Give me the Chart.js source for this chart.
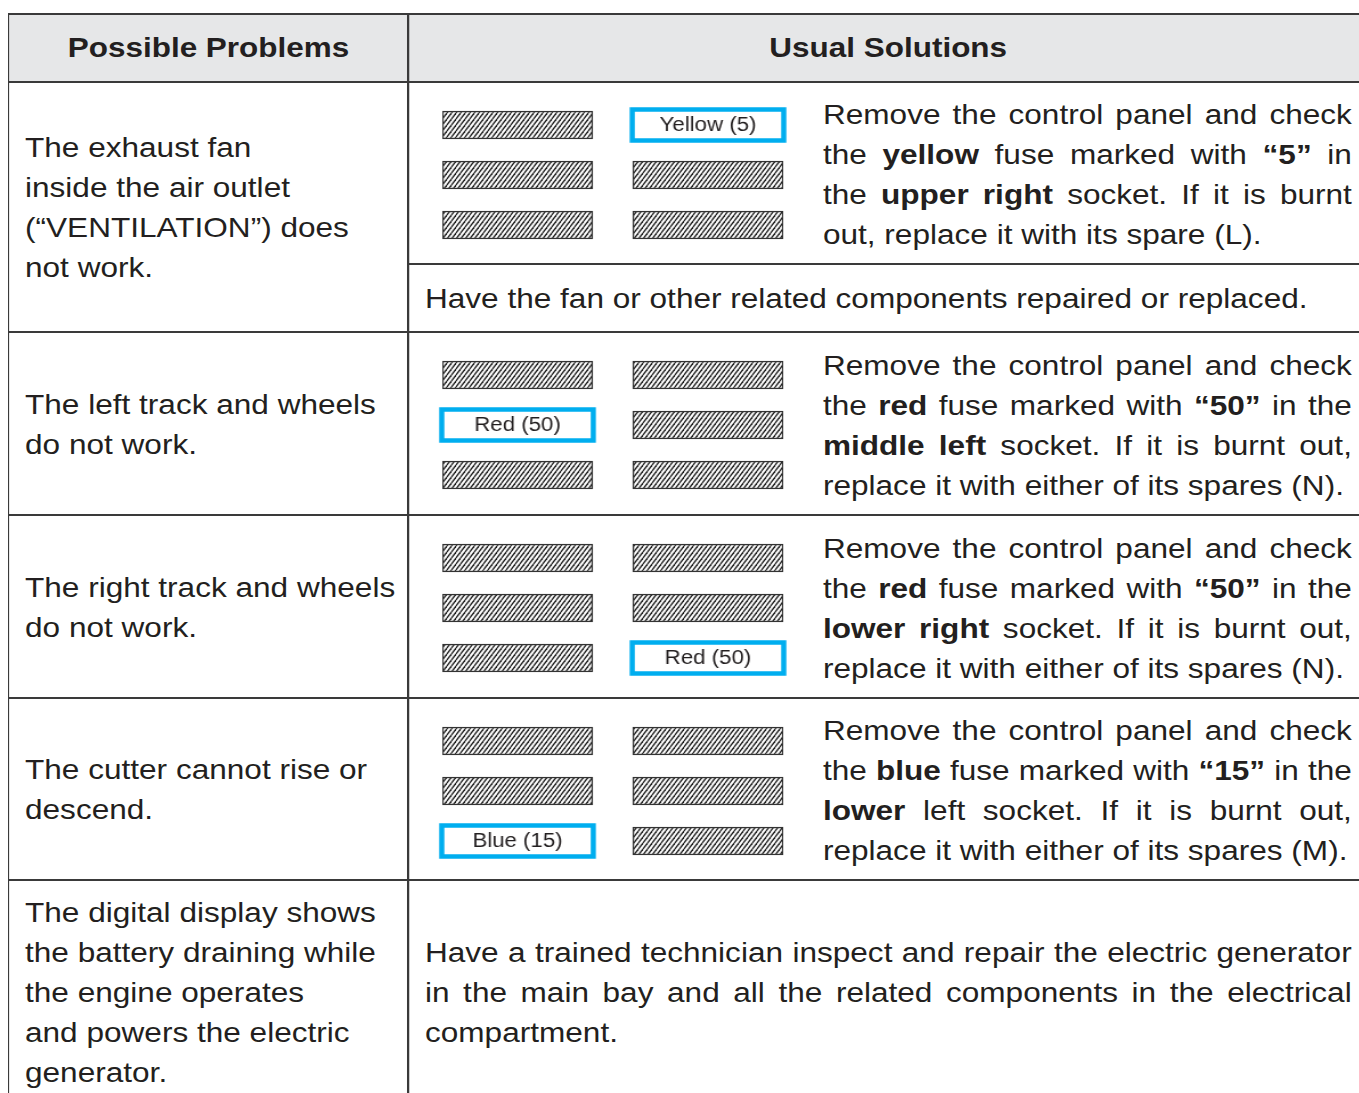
<!DOCTYPE html>
<html>
<head>
<meta charset="utf-8">
<script src="https://cdn.jsdelivr.net/npm/chart.js@4"></script>
<style>
  html, body { margin: 0; padding: 0; background: #fff; overflow: hidden; }
  body { width: 1359px; height: 1093px; position: relative; }
  .page { position: absolute; left: 0; top: 0; width: 1200px; transform: scaleX(1.14); transform-origin: 0 0;
    font-family: "Liberation Sans", Arial, Helvetica, sans-serif; color: #231f20; }
  .grid { position: absolute; left: 6.6px; top: 13px; display: grid;
    grid-template-columns: 349.1px 839.9px;
    grid-template-rows: 66px 180px 66px 181px 181px 180px 222px;
    column-gap: 1.75px; row-gap: 2px; padding: 2px 1.75px; background: #3a3a3a; }
  .cell { background: #fff; display: flex; align-items: center; font-size: 27.7px; line-height: 40px; }
  .head { background: #e6e7e8; justify-content: center; font-weight: bold; font-size: 27.6px; }
  .prob { padding-left: 13.6px; padding-top: 2px; }
  .sol { padding: 2px 13.4px 0 13.6px; }
  .span2 { grid-row: span 2; }
  .fuse { padding: 0; overflow: hidden; }
  .fuse canvas { margin-left: 20.5px; margin-top: 3px; flex: none; }
  .txt { margin-left: 27.2px; width: 464px; margin-top: 4px; }
  .txt.wide { margin-left: 0; width: 813px; margin-top: 0; }
  .j { text-align: justify; text-align-last: justify; white-space: nowrap; }
  .l { text-align: left; white-space: nowrap; }
  b { font-weight: bold; }
</style>
</head>
<body>
<div class="page">
  <div class="grid">
    <div class="cell head">Possible Problems</div>
    <div class="cell head">Usual Solutions</div>

    <div class="cell prob span2"><div>The exhaust fan<br>inside the air outlet<br>(“VENTILATION”) does<br>not work.</div></div>
    <div class="cell fuse"><canvas id="fuse0" width="315" height="160"></canvas>
      <div class="txt">
        <div class="j">Remove the control panel and check</div>
        <div class="j">the <b>yellow</b> fuse marked with <b>“5”</b> in</div>
        <div class="j">the <b>upper right</b> socket. If it is burnt</div>
        <div class="l">out, replace it with its spare (L).</div>
      </div></div>
    <div class="cell sol"><div>Have the fan or other related components repaired or replaced.</div></div>

    <div class="cell prob"><div>The left track and wheels<br>do not work.</div></div>
    <div class="cell fuse"><canvas id="fuse1" width="315" height="160"></canvas>
      <div class="txt">
        <div class="j">Remove the control panel and check</div>
        <div class="j">the <b>red</b> fuse marked with <b>“50”</b> in the</div>
        <div class="j"><b>middle left</b> socket. If it is burnt out,</div>
        <div class="l">replace it with either of its spares (N).</div>
      </div></div>

    <div class="cell prob"><div>The right track and wheels<br>do not work.</div></div>
    <div class="cell fuse"><canvas id="fuse2" width="315" height="160"></canvas>
      <div class="txt">
        <div class="j">Remove the control panel and check</div>
        <div class="j">the <b>red</b> fuse marked with <b>“50”</b> in the</div>
        <div class="j"><b>lower right</b> socket. If it is burnt out,</div>
        <div class="l">replace it with either of its spares (N).</div>
      </div></div>

    <div class="cell prob"><div>The cutter cannot rise or<br>descend.</div></div>
    <div class="cell fuse"><canvas id="fuse3" width="315" height="160"></canvas>
      <div class="txt">
        <div class="j">Remove the control panel and check</div>
        <div class="j">the <b>blue</b> fuse marked with <b>“15”</b> in the</div>
        <div class="j"><b>lower</b> left socket. If it is burnt out,</div>
        <div class="l">replace it with either of its spares (M).</div>
      </div></div>

    <div class="cell prob"><div>The digital display shows<br>the battery draining while<br>the engine operates<br>and powers the electric<br>generator.</div></div>
    <div class="cell sol"><div class="txt wide">
        <div class="j">Have a trained technician inspect and repair the electric generator</div>
        <div class="j">in the main bay and all the related components in the electrical</div>
        <div class="l">compartment.</div>
      </div></div>
  </div>
</div>

<script>
// fuse box layout: three socket rows, two socket columns
const socketRows = ['Upper', 'Middle', 'Lower'];
const leftSocketSpan = [0, 15];
const rightSocketSpan = [19, 34];

// the fuse to check in each panel
const fuseLabels = ['Yellow (5)', 'Red (50)', 'Red (50)', 'Blue (15)'];
const fuseRow = [0, 1, 2, 2];
const fuseCol = [1, 0, 1, 0];

function makeHatch(ctx) {
    const tile = document.createElement('canvas');
    tile.width = 4;
    tile.height = 6;
    const t = tile.getContext('2d');
    t.fillStyle = '#fff';
    t.fillRect(0, 0, 4, 6);
    t.strokeStyle = '#1a1a1a';
    t.lineWidth = 1.3;
    [-4, 0, 4].forEach(dx => {
        t.beginPath();
        t.moveTo(dx, 6);
        t.lineTo(dx + 4, 0);
        t.stroke();
    });
    return ctx.createPattern(tile, 'repeat');
}

const fuseMark = {
    id: 'fuseMark',
    afterDatasetsDraw(chart, args, opts) {
        const el = chart.getDatasetMeta(opts.col).data[opts.row];
        const p = el.getProps(['x', 'base', 'y', 'height'], true);
        const left = Math.min(p.x, p.base);
        const w = Math.abs(p.x - p.base);
        const ctx = chart.ctx;
        ctx.save();
        ctx.fillStyle = '#fff';
        ctx.fillRect(left, p.y - p.height / 2, w, p.height);
        ctx.strokeStyle = '#00aeef';
        ctx.lineWidth = 4.5;
        ctx.strokeRect(left - 0.5, p.y - p.height / 2 - 1.5, w + 1, p.height + 3);
        ctx.fillStyle = '#231f20';
        ctx.font = '19.5px "Liberation Sans", Arial, sans-serif';
        ctx.textAlign = 'center';
        ctx.textBaseline = 'middle';
        ctx.fillText(opts.label, left + w / 2, p.y + 1);
        ctx.restore();
    }
};

fuseLabels.forEach((label, i) => {
    const canvas = document.getElementById('fuse' + i);
    const ctx = canvas.getContext('2d');
    const hatch = makeHatch(ctx);
    const isMarked = c => c.datasetIndex === fuseCol[i] && c.dataIndex === fuseRow[i];
    const socketStyle = {
        grouped: false,
        barThickness: 28,
        borderSkipped: false,
        borderColor: '#333',
        borderWidth: c => isMarked(c) ? 0 : 1.5,
        backgroundColor: c => isMarked(c) ? '#fff' : hatch
    };
    new Chart(ctx, {
        type: 'bar',
        data: {
            labels: socketRows,
            datasets: [
                Object.assign({ label: 'Left sockets', data: socketRows.map(() => leftSocketSpan) }, socketStyle),
                Object.assign({ label: 'Right sockets', data: socketRows.map(() => rightSocketSpan) }, socketStyle)
            ]
        },
        options: {
            indexAxis: 'y',
            responsive: false,
            animation: false,
            layout: { padding: { left: 8, right: 8, top: 5, bottom: 5 } },
            scales: {
                x: { display: false, min: 0, max: 34 },
                y: { display: false }
            },
            plugins: {
                colors: { enabled: false },
                legend: { display: false },
                tooltip: { enabled: false },
                fuseMark: { row: fuseRow[i], col: fuseCol[i], label: label }
            }
        },
        plugins: [fuseMark]
    });
});
</script>
</body>
</html>
